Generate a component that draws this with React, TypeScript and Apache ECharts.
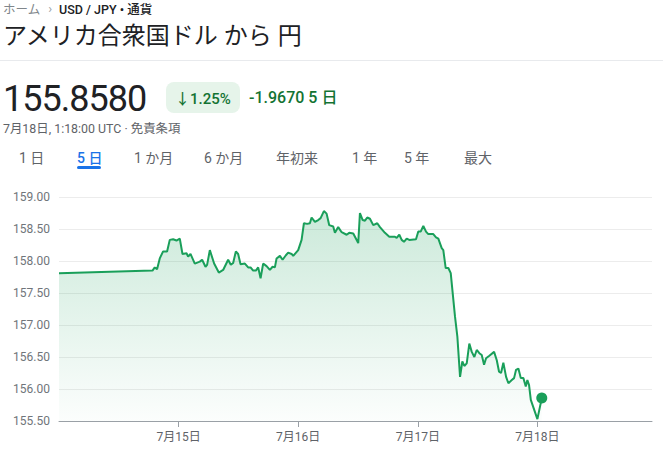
import React, { useEffect, useRef } from "react";
import * as echarts from "echarts";

// Hours since 7月14日 00:00
const hours = [
  0.0, 18.76, 19.22, 19.68, 20.22, 20.89, 21.69, 22.23, 22.9, 23.58, 24.24, 24.78, 25.59, 25.91, 26.39,
  27.25, 28.26, 28.72, 29.4, 29.72, 30.27, 31.13, 32.07, 32.94, 33.94, 34.48, 34.95, 35.49, 35.95, 36.43,
  37.3, 37.96, 38.44, 38.96, 39.51, 39.97, 40.45, 40.97, 41.65, 42.32, 42.86, 43.32, 43.66, 44.33, 44.87,
  45.53, 45.99, 46.68, 47.0, 48.0, 48.68, 49.15, 49.81, 50.35, 50.69, 51.36, 52.02, 52.5, 53.16, 53.7,
  54.23, 55.03, 55.37, 56.03, 56.72, 57.72, 58.24, 59.05, 60.05, 60.39, 60.94, 61.4, 61.86, 62.4, 63.06,
  63.87, 64.41, 65.41, 66.28, 67.42, 67.76, 68.29, 68.77, 69.23, 69.77, 70.29, 71.64, 72.1, 72.58, 73.11,
  73.65, 74.11, 75.11, 75.66, 76.12, 76.8, 77.12, 77.6, 78.13, 78.61, 79.47, 79.94, 80.48, 80.94, 81.34,
  81.82, 82.34, 82.83, 83.35, 83.83, 84.35, 84.83, 85.3, 85.7, 86.36, 87.31, 87.85, 88.31, 88.71, 89.17,
  89.72, 90.18, 90.86, 91.32, 91.72, 92.19, 92.67, 93.19, 93.67, 93.99, 94.33, 94.68, 96.0, 96.88,
];

const prices = [
  157.81, 157.85, 157.9, 157.87, 158.04, 158.15, 158.15, 158.33, 158.34, 158.32, 158.35, 158.11, 158.12, 158.07, 158.11,
  157.96, 157.99, 158.02, 157.91, 157.94, 158.17, 157.96, 157.82, 157.86, 158.02, 157.94, 157.97, 158.15, 158.11, 157.95,
  157.96, 157.9, 157.9, 157.85, 157.85, 157.9, 157.73, 157.96, 157.92, 157.86, 157.91, 157.9, 158.04, 158.08, 158.02,
  158.09, 158.13, 158.11, 158.08, 158.17, 158.33, 158.59, 158.58, 158.59, 158.68, 158.61, 158.64, 158.67, 158.78, 158.74,
  158.56, 158.54, 158.44, 158.53, 158.45, 158.41, 158.44, 158.43, 158.28, 158.75, 158.64, 158.63, 158.68, 158.66, 158.56,
  158.59, 158.53, 158.44, 158.38, 158.38, 158.36, 158.41, 158.33, 158.3, 158.35, 158.33, 158.34, 158.46, 158.46, 158.55,
  158.46, 158.42, 158.42, 158.37, 158.35, 158.2, 158.17, 157.89, 157.89, 157.81, 157.13, 156.82, 156.19, 156.43, 156.36,
  156.4, 156.71, 156.58, 156.5, 156.61, 156.56, 156.53, 156.38, 156.48, 156.52, 156.58, 156.45, 156.27, 156.25, 156.41,
  156.19, 156.09, 156.14, 156.17, 156.3, 156.32, 156.17, 156.17, 156.04, 156.14, 156.06, 155.83, 155.53, 155.858,
];

const tickHours = [24, 48, 72, 96];
const tickLabels = ["7月15日", "7月16日", "7月17日", "7月18日"];
const yTicks = { min: 155.5, max: 159, step: 0.5 };
const tabs = ["1 日", "5 日", "1 か月", "6 か月", "年初来", "1 年", "5 年", "最大"];
const tabX = [19, 77, 134, 204, 276, 352, 404, 464];

const FONT = "Roboto, 'Noto Sans CJK JP', 'Noto Sans', sans-serif";
const GREEN = "#1a9f5a";

function Chart() {
  const ref = useRef<HTMLDivElement>(null);
  useEffect(() => {
    if (!ref.current) return;
    const chart = echarts.init(ref.current, undefined, { renderer: "svg" });
    const lineData = hours.map((h, i) => [h, prices[i]]);
    const last = lineData[lineData.length - 1];
    chart.setOption({
      animation: false,
      textStyle: { fontFamily: FONT },
      grid: { left: 59, right: 11, top: 17, bottom: 31 },
      xAxis: {
        type: "value",
        min: 0,
        max: 119,
        splitLine: { show: false },
        axisLine: { show: true, lineStyle: { color: "#9aa0a6", width: 1 } },
        axisTick: { show: true, length: 6, customValues: tickHours, lineStyle: { color: "#9aa0a6" } },
        axisLabel: {
          customValues: tickHours,
          color: "#5f6368",
          fontSize: 12,
          margin: 10,
          formatter: (v: number) => {
            const i = tickHours.indexOf(Math.round(v));
            return i >= 0 ? tickLabels[i] : "";
          },
        },
      },
      yAxis: {
        type: "value",
        min: yTicks.min,
        max: yTicks.max,
        interval: yTicks.step,
        axisLine: { show: false },
        axisTick: { show: false },
        splitLine: { lineStyle: { color: "#ececec", width: 1 } },
        axisLabel: {
          color: "#70757a",
          fontSize: 12,
          margin: 9,
          formatter: (v: number) => v.toFixed(2),
        },
      },
      series: [
        {
          type: "line",
          data: lineData,
          showSymbol: false,
          lineStyle: { color: GREEN, width: 2 },
          areaStyle: {
            origin: "start",
            color: new echarts.graphic.LinearGradient(0, 0, 0, 1, [
              { offset: 0, color: "rgba(26,159,90,0.32)" },
              { offset: 1, color: "rgba(26,159,90,0.02)" },
            ]),
          },
          z: 2,
        },
        {
          type: "scatter",
          data: [last],
          symbol: "circle",
          symbolSize: 11,
          itemStyle: { color: GREEN, opacity: 1 },
          z: 3,
        },
      ],
    });
    return () => chart.dispose();
  }, []);
  return <div ref={ref} style={{ position: "absolute", left: 0, top: 180, width: 663, height: 272 }} />;
}

export default function App() {
  return (
    <div
      style={{
        position: "fixed",
        left: 0,
        top: 0,
        width: 663,
        height: 452,
        overflow: "hidden",
        background: "#fff",
        fontFamily: FONT,
        color: "#202124",
      }}
    >
      {/* breadcrumb */}
      <div style={{ position: "absolute", left: 3, top: 0, height: 16, display: "flex", alignItems: "center", fontSize: 12, whiteSpace: "nowrap" }}>
        <span style={{ color: "#80868b", fontSize: 12.5 }}>ホーム</span>
        <span style={{ color: "#9aa0a6", margin: "0 7px 0 8px", fontSize: 13 }}>›</span>
        <span style={{ color: "#202124", fontWeight: 500, fontSize: 12.5 }}>USD / JPY • 通貨</span>
      </div>
      {/* title */}
      <div style={{ position: "absolute", left: 3, top: 20, fontSize: 24, lineHeight: "32px", whiteSpace: "nowrap", color: "#202124" }}>
        アメリカ合衆国ドル から 円
      </div>
      <div style={{ position: "absolute", left: 0, top: 60, width: 663, height: 1, background: "#e8eaed" }} />
      {/* price */}
      <div style={{ position: "absolute", left: 3, top: 78, fontSize: 36, lineHeight: "42px", letterSpacing: -1, whiteSpace: "nowrap", color: "#202124" }}>
        155.8580
      </div>
      <div
        style={{
          position: "absolute",
          left: 166,
          top: 82,
          width: 74,
          height: 31,
          borderRadius: 8,
          background: "#e6f4ea",
          color: "#137333",
          fontSize: 15,
          fontWeight: 500,
          display: "flex",
          alignItems: "center",
          justifyContent: "center",
          whiteSpace: "nowrap",
        }}
      >
        ↓1.25%
      </div>
      <div style={{ position: "absolute", left: 249, top: 87, fontSize: 16, lineHeight: "22px", fontWeight: 500, color: "#137333", whiteSpace: "nowrap" }}>
        -1.9670 5 日
      </div>
      <div style={{ position: "absolute", left: 3, top: 121, fontSize: 12.4, lineHeight: "16px", color: "#5f6368", whiteSpace: "nowrap" }}>
        7月18日, 1:18:00 UTC · 免責条項
      </div>
      {/* tabs */}
      {tabs.map((t, i) => (
        <div
          key={t}
          style={{
            position: "absolute",
            left: tabX[i],
            top: 149,
            fontSize: 14,
            lineHeight: "18px",
            whiteSpace: "nowrap",
            color: i === 1 ? "#1a73e8" : "#5f6368",
            fontWeight: i === 1 ? 500 : 400,
          }}
        >
          {t}
        </div>
      ))}
      <div style={{ position: "absolute", left: 77, top: 166, width: 24, height: 3, borderRadius: 2, background: "#1a73e8" }} />
      <Chart />
    </div>
  );
}
